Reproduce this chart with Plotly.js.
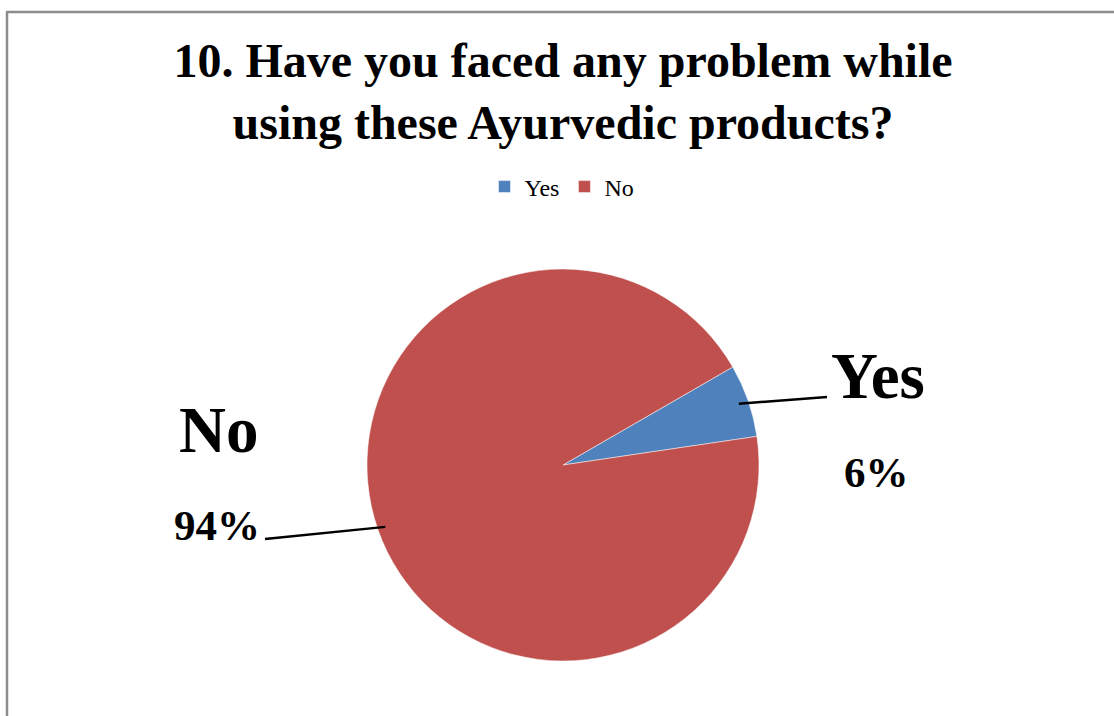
<!DOCTYPE html>
<html>
<head>
<meta charset="utf-8">
<script src="https://cdn.plot.ly/plotly-3.0.1.min.js"></script>
<style>html,body{margin:0;padding:0;background:#fff;}#chart{width:1114px;height:716px;}</style>
</head>
<body>
<div id="chart"></div>
<script>
const categories = ["Yes", "No"];
const values = [6, 94];
const percentLabels = ["6%", "94%"];
const colors = ["#4F81BD", "#C0504D"];

const W = 1114, H = 716;
const cx = 563, cy = 465, R = 196;
const rotation = 60;
const serif = "'Liberation Serif', 'Times New Roman', serif";

const px = x => x / W;
const py = y => 1 - y / H;

// Mid angles of each slice computed from the data
const total = values.reduce((a, b) => a + b, 0);
let acc = rotation;
const mids = values.map(v => { const a = acc + v / total * 180; acc += v / total * 360; return a; });
const edgePt = (deg, f) => {
  const t = deg * Math.PI / 180;
  return [cx + f * R * Math.sin(t), cy - f * R * Math.cos(t)];
};

const yesStart = edgePt(mids[0], 0.95);
const noStart = edgePt(mids[1], 0.96);

const shapes = [
  {type: 'line', xref: 'paper', yref: 'paper', x0: px(7), y0: py(716), x1: px(7), y1: py(12), line: {color: '#8c8c8c', width: 2.5}},
  {type: 'line', xref: 'paper', yref: 'paper', x0: px(6), y0: py(12), x1: px(1114), y1: py(12), line: {color: '#8c8c8c', width: 2.5}},
  {type: 'line', xref: 'paper', yref: 'paper', x0: px(yesStart[0]), y0: py(yesStart[1]), x1: px(827), y1: py(397), line: {color: '#000', width: 2.5}},
  {type: 'line', xref: 'paper', yref: 'paper', x0: px(noStart[0]), y0: py(noStart[1]), x1: px(265), y1: py(539), line: {color: '#000', width: 2.5}}
];

const ann = (text, x, y, size) => ({
  text: '<b>' + text + '</b>', x: px(x), y: py(y), xref: 'paper', yref: 'paper',
  xanchor: 'center', yanchor: 'middle', showarrow: false,
  font: {family: serif, size: size, color: '#000'}
});

const annotations = [
  ann(categories[0], 878, 376, 65),
  ann(percentLabels[0], 876, 472, 43),
  ann(categories[1], 218, 430, 65),
  ann(percentLabels[1], 217, 525, 43)
];

const trace = {
  type: 'pie',
  labels: categories,
  values: values,
  sort: false,
  direction: 'clockwise',
  rotation: rotation,
  marker: {colors: colors, line: {color: '#ffffff', width: 0.5}},
  textinfo: 'none',
  hoverinfo: 'label+percent',
  domain: {x: [px(cx - R), px(cx + R)], y: [py(cy + R), py(cy - R)]}
};

const layout = {
  width: W, height: H,
  margin: {l: 0, r: 0, t: 0, b: 0},
  paper_bgcolor: '#fff',
  title: {
    text: '<b>10. Have you faced any problem while<br>using these Ayurvedic products?</b>',
    font: {family: serif, size: 48, color: '#000'},
    x: px(563), xanchor: 'center', xref: 'paper',
    y: py(77), yanchor: 'top', yref: 'container'
  },
  showlegend: true,
  legend: {
    orientation: 'h', x: px(562), xanchor: 'center', y: py(187), yanchor: 'middle',
    font: {family: serif, size: 24, color: '#000'},
    itemwidth: 30, traceorder: 'normal'
  },
  shapes: shapes,
  annotations: annotations
};

Plotly.newPlot('chart', [trace], layout, {displayModeBar: false, staticPlot: true});
</script>
</body>
</html>
